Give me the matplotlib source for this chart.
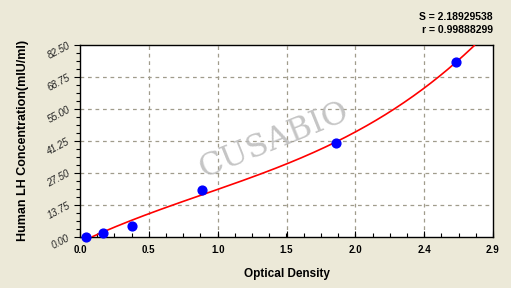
import numpy as np
import matplotlib
matplotlib.use("Agg")
import matplotlib.pyplot as plt
from matplotlib.patches import Rectangle
from matplotlib.ticker import AutoMinorLocator

# Data
od = [0.040, 0.161, 0.367, 0.868, 1.816, 2.665]
conc = [0.0, 1.85, 4.86, 20.0, 40.1, 74.9]
x_ticks = [0.0, 0.4883, 0.9767, 1.465, 1.9533, 2.4417, 2.93]
x_labels = ["0.0", "0.5", "1.0", "1.5", "2.0", "2.4", "2.9"]
y_ticks = [0.0, 13.75, 27.50, 41.25, 55.00, 68.75, 82.50]
y_labels = ["0.00", "13.75", "27.50", "41.25", "55.00", "68.75", "82.50"]
stats = ["S = 2.18929538", "r = 0.99888299"]

W, H = 516, 289
fig = plt.figure(figsize=(W / 100, H / 100), dpi=100, facecolor="white")
fig.patches.append(Rectangle((0, 1 / H), 511 / W, 1 - 1 / H, transform=fig.transFigure,
                             facecolor="#ECE9D8", edgecolor="none", zorder=-10))

ax = fig.add_axes([80 / W, 1 - 237 / H, 413 / W, (237 - 44.5) / H])
ax.set_facecolor("white")
ax.set_xlim(0, 2.93)
ax.set_ylim(0, 82.5)

# fitted curve (cubic polynomial through the standards)
coef = np.polyfit(od, conc, 3)
xs = np.linspace(0.0, 2.93, 400)
ys = np.polyval(coef, xs)
m = (ys >= 0) & (ys <= 82.5)
ax.plot(xs[m], ys[m], color="#FF0000", lw=1.2, zorder=3)
ax.scatter(od, conc, s=40, color="#0000FF", zorder=4, clip_on=False)

ax.set_xticks(x_ticks)
ax.set_xticklabels(x_labels, fontsize=7, fontweight="bold", family="Liberation Sans")
ax.set_yticks(y_ticks)
ax.set_yticklabels(y_labels, fontsize=7, family="Liberation Sans", rotation=28,
                   style="italic", color="#222222")
ax.xaxis.set_minor_locator(AutoMinorLocator(4))
ax.yaxis.set_minor_locator(AutoMinorLocator(4))
ax.tick_params(axis="x", which="major", direction="in", length=4, width=0.8, pad=6)
ax.tick_params(axis="x", which="minor", direction="in", length=3, width=0.8)
ax.tick_params(axis="y", which="major", direction="out", length=4, width=0.8, pad=2)
ax.tick_params(axis="y", which="minor", direction="out", length=3, width=0.8)
for s in ax.spines.values():
    s.set_linewidth(1.0)
    s.set_color("black")

for xt in x_ticks[1:-1]:
    ax.axvline(xt, color="#A09C8C", lw=0.9, ls=(0, (3, 3)), zorder=1)
for yt in y_ticks[1:-1]:
    ax.axhline(yt, color="#A09C8C", lw=0.9, ls=(0, (3, 3)), zorder=1)

ax.set_xlabel("Optical Density", fontsize=8.5, fontweight="bold", family="Liberation Sans",
              labelpad=9)
ax.set_ylabel("Human LH Concentration(mIU/ml)", fontsize=9, fontweight="bold",
              family="Liberation Sans", labelpad=12)

# watermark
ax.text(0.47, 0.50, "CUSABIO", transform=ax.transAxes, fontsize=23, family="DejaVu Serif",
        color="#BBBBBB", alpha=0.85, rotation=22, ha="center", va="center", zorder=2)

fig.text(493 / W, 1 - 17 / H, stats[0], ha="right", va="center", fontsize=7.5,
         fontweight="bold", family="Liberation Sans")
fig.text(493 / W, 1 - 30 / H, stats[1], ha="right", va="center", fontsize=7.5,
         fontweight="bold", family="Liberation Sans")

fig.savefig("out.png", dpi=100, facecolor=fig.get_facecolor())
